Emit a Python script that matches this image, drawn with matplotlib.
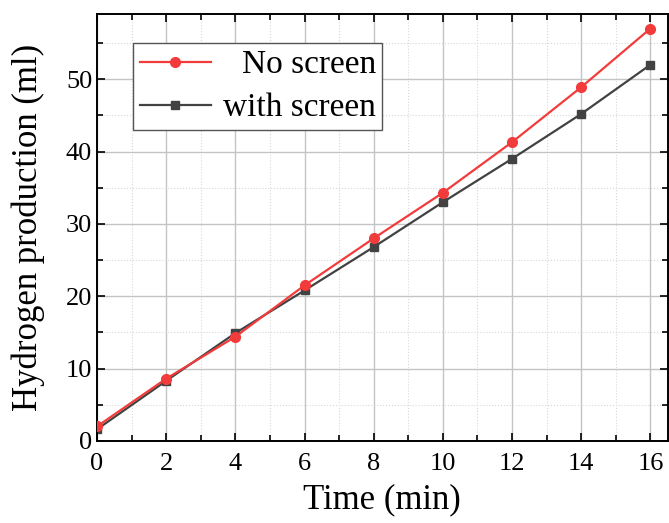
import matplotlib
matplotlib.use('Agg')
import matplotlib.pyplot as plt
from matplotlib.ticker import MultipleLocator

# data
time_min = [0, 2, 4, 6, 8, 10, 12, 14, 16]
no_screen = [2.0, 8.6, 14.4, 21.5, 28.0, 34.3, 41.3, 48.9, 57.0]
with_screen = [1.6, 8.3, 14.9, 20.8, 26.8, 33.0, 39.0, 45.2, 52.0]

plt.rcParams['font.family'] = ['Liberation Serif', 'DejaVu Serif']

fig = plt.figure(figsize=(6.69, 5.23), dpi=100)
ax = fig.add_axes([0.145, 0.157, 0.853, 0.816])

ax.plot(time_min, no_screen, '-o', color='#F23B3B', lw=1.6, ms=7, label='No screen', zorder=3)
ax.plot(time_min, with_screen, '-s', color='#424242', lw=1.6, ms=5.5, label='with screen', zorder=2)

ax.set_xlim(0, 16.5)
ax.set_ylim(0, 59)
ax.xaxis.set_major_locator(MultipleLocator(2))
ax.xaxis.set_minor_locator(MultipleLocator(1))
ax.yaxis.set_major_locator(MultipleLocator(10))
ax.yaxis.set_minor_locator(MultipleLocator(5))

ax.grid(which='major', color='#c4c4c4', lw=1.0)
ax.grid(which='minor', color='#d8d8d8', lw=0.8, ls=':')
ax.set_axisbelow(True)

ax.tick_params(which='both', direction='in', top=True, right=True, labelsize=19, width=1.2)
ax.tick_params(which='major', length=6)
ax.tick_params(which='minor', length=4)
ax.tick_params(axis='x', pad=9)
for s in ax.spines.values():
    s.set_linewidth(1.4)

ax.set_xlabel('Time (min)', fontsize=25, labelpad=6)
ax.set_ylabel('Hydrogen production (ml)', fontsize=25, labelpad=15)

leg = ax.legend(loc='upper left', bbox_to_anchor=(0.063, 0.932), borderaxespad=0,
                fontsize=24, fancybox=False, edgecolor='#555555', framealpha=1,
                handlelength=2.15, borderpad=0.2, labelspacing=0.38,
                handletextpad=0.35)
leg.get_frame().set_linewidth(1.0)

# right-align the legend labels, keep the handles on the left
fig.canvas.draw()
renderer = fig.canvas.get_renderer()
column = leg._legend_handle_box.get_children()[0]
rows = column.get_children()
row_w = max(r.get_bbox(renderer).width for r in rows)
column.width = row_w
for r in rows:
    r.mode = 'expand'

fig.savefig('out.png', dpi=100)
